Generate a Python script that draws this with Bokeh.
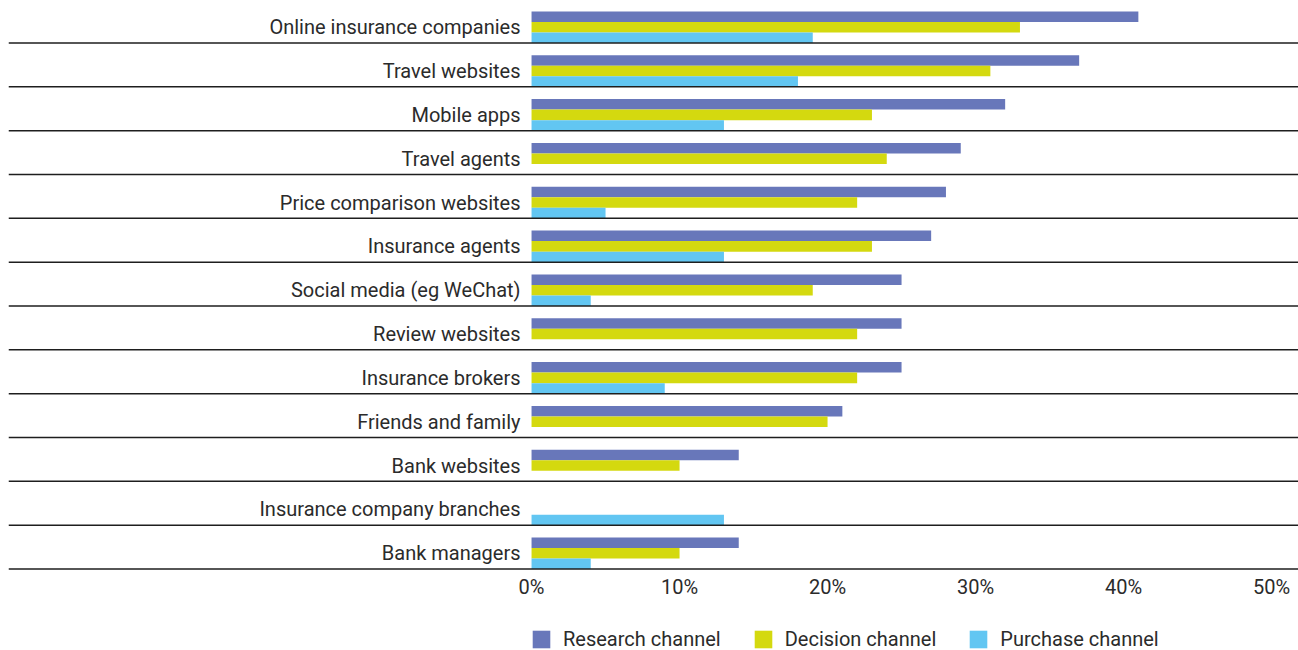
from bokeh.plotting import figure
from bokeh.layouts import column
from bokeh.models import (ColumnDataSource, Range1d, FixedTicker, CustomJSTickFormatter,
                          Legend, LegendItem, Span)
from bokeh.core.properties import value
from bokeh.embed import file_html
from bokeh.resources import INLINE

categories = ["Online insurance companies", "Travel websites", "Mobile apps", "Travel agents",
              "Price comparison websites", "Insurance agents", "Social media (eg WeChat)",
              "Review websites", "Insurance brokers", "Friends and family", "Bank websites",
              "Insurance company branches", "Bank managers"]
research = [41, 37, 32, 29, 28, 27, 25, 25, 25, 21, 14, 0, 14]
decision = [33, 31, 23, 24, 22, 23, 19, 22, 22, 20, 10, 0, 10]
purchase = [19, 18, 13, 0, 5, 13, 4, 0, 9, 0, 0, 13, 4]
tick_values = [0, 10, 20, 30, 40, 50]
series_names = ["Research channel", "Decision channel", "Purchase channel"]
colors = ["#6877ba", "#d4d90f", "#62c6f2"]

FONT = "Roboto"
FS = "20px"
TXT = "#2b2b2b"

idx = list(range(len(categories)))
src = ColumnDataSource(dict(
    cat=categories,
    y_r=[i + 0.40 for i in idx],
    y_d=[i + 0.64 for i in idx],
    y_p=[i + 0.88 for i in idx],
    research=research, decision=decision, purchase=purchase,
))

p = figure(frame_width=1290, frame_height=564, output_backend="svg", toolbar_location=None,
           x_range=Range1d(-35.34, 51.82), y_range=Range1d(13.08, 0.213),
           min_border_left=8, min_border_right=0, min_border_top=8, min_border_bottom=0)
p.outline_line_color = None
p.xgrid.visible = False
p.ygrid.visible = False
p.yaxis.visible = False

ax = p.xaxis[0]
ax.ticker = FixedTicker(ticks=tick_values)
ax.formatter = CustomJSTickFormatter(code="return tick + '%';")
ax.axis_line_color = None
ax.major_tick_line_color = None
ax.minor_tick_line_color = None
ax.major_tick_out = 0
ax.major_tick_in = 0
ax.major_label_text_font = FONT
ax.major_label_text_font_size = FS
ax.major_label_text_color = TXT
ax.major_label_standoff = 2

r1 = p.hbar(y="y_r", left=0, right="research", height=0.24, source=src,
            fill_color=colors[0], line_color=None)
r2 = p.hbar(y="y_d", left=0, right="decision", height=0.24, source=src,
            fill_color=colors[1], line_color=None)
r3 = p.hbar(y="y_p", left=0, right="purchase", height=0.24, source=src,
            fill_color=colors[2], line_color=None)

for i in idx:
    p.add_layout(Span(location=i + 1, dimension="width", line_color="#1e1e1e", line_width=1.5))

p.text(x=0, y="y_d", text="cat", source=src, x_offset=-11, text_align="right",
       text_baseline="middle", text_font=value(FONT), text_font_size=FS, text_color=TXT)

# legend strip
lg = figure(frame_width=1290, frame_height=50, output_backend="svg", toolbar_location=None,
            x_range=Range1d(0, 1), y_range=Range1d(0, 1),
            min_border_left=8, min_border_right=0, min_border_top=0, min_border_bottom=0)
lg.outline_line_color = None
lg.xaxis.visible = False
lg.yaxis.visible = False
lg.xgrid.visible = False
lg.ygrid.visible = False
dummy = ColumnDataSource(dict(y=[-10], right=[1]))
lr = [lg.hbar(y="y", left=0, right="right", height=1, source=dummy,
              fill_color=c, line_color=None) for c in colors]
legend = Legend(items=[LegendItem(label=n, renderers=[r]) for n, r in zip(series_names, lr)],
                orientation="horizontal", location=(522, 0),
                glyph_width=22, glyph_height=22, label_standoff=11, spacing=31,
                label_text_font=FONT, label_text_font_size=FS, label_text_color=TXT,
                border_line_color=None, background_fill_alpha=0, padding=0, margin=0)
lg.add_layout(legend)

layout = column(p, lg, spacing=0)
open("out.html", "w").write(file_html(layout, INLINE))
